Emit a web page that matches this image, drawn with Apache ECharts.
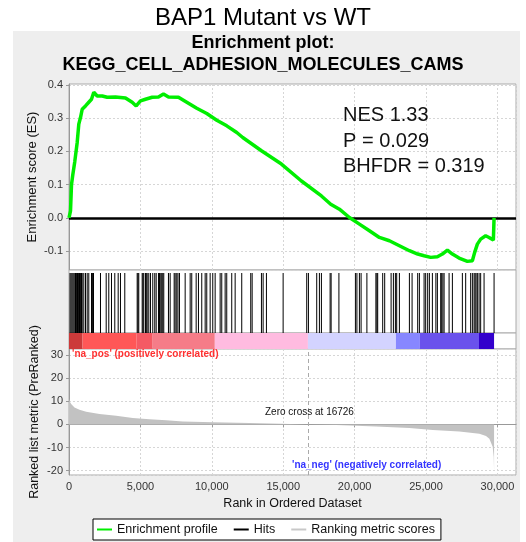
<!DOCTYPE html>
<html><head><meta charset="utf-8">
<script src="https://cdn.jsdelivr.net/npm/echarts@6/dist/echarts.min.js"></script>
<style>html,body{margin:0;padding:0;background:#fff}#c{width:526px;height:542px}</style>
</head><body><div id="c"></div>
<script>
// ---- data ----
const esRank = [0,70,105,175,266,406,574,686,805,924,1155,1386,1575,1736,1974,2324,2674,3255,3955,4424,4704,5005,5355,5824,6265,6615,6965,7665,8246,8946,9646,10346,11046,11746,12166,13475,14875,16275,17675,18326,18935,19635,20335,21035,21735,22435,23135,23835,24416,24864,25326,25795,26145,26495,26845,27314,27895,28245,28406,28595,28826,29176,29414,29715,29764];
const esScore = [0,-0.004,0.021,0.10,0.13,0.17,0.227,0.282,0.302,0.327,0.337,0.348,0.357,0.378,0.367,0.367,0.363,0.364,0.361,0.348,0.337,0.352,0.357,0.363,0.364,0.373,0.364,0.363,0.348,0.330,0.314,0.294,0.277,0.257,0.242,0.202,0.162,0.111,0.066,0.041,0.026,0.001,-0.019,-0.039,-0.059,-0.069,-0.084,-0.099,-0.109,-0.114,-0.119,-0.117,-0.109,-0.097,-0.109,-0.121,-0.131,-0.129,-0.104,-0.079,-0.064,-0.054,-0.059,-0.067,0];
const hitRanks = [70,140,210,280,350,420,455,504,546,595,644,686,735,784,826,875,924,1036,1155,1274,1386,1575,1624,1666,1715,2205,2604,2786,2975,3206,3444,3605,3906,4774,4830,4886,5124,5180,5236,5355,5411,5474,5586,5705,5866,6006,6104,6265,6335,6426,6496,6566,6636,6965,7084,7364,7434,7546,7630,7735,8134,8484,8596,8904,9065,9296,9534,9646,9884,10066,10234,10584,10696,10934,11046,11396,11634,12096,12726,12824,13475,13594,13825,14994,16646,16765,17346,17535,17675,18284,18354,18900,20055,20160,20335,20454,20860,21490,21560,21616,21966,22106,22554,22715,22855,22946,23135,23835,24024,24416,24535,24864,24976,25116,25235,25445,25690,25795,26026,26096,26180,26264,26614,26845,27545,27776,28126,28245,28364,28434,28504,28595,28714,28826,29064,29764];
const metricRank = [0,60,150,385,735,1204,2135,3304,4466,5635,6804,7966,10066,12635,14800,16726,18704,21504,23835,25466,27335,28735,29200,29435,29666,29740,29764];
const metricValue = [11.0,9.8,8.8,7.3,6.3,5.5,4.5,3.75,2.75,2.2,1.75,1.3,0.9,0.6,0.3,0,-0.3,-0.85,-1.6,-2.4,-3.1,-4.0,-5.0,-6.2,-9.7,-14,-20];
const colorBarEdges = [0,950,4740,5860,10210,16730,22890,24570,28710,29764];
const xTickLabels = ['0','5,000','10,000','15,000','20,000','25,000','30,000'];
const zeroCross = 16726;
const statLines = ['NES 1.33','P = 0.029','BHFDR = 0.319'];
const titleText = 'BAP1 Mutant vs WT';
const subTitle = ['Enrichment plot:','KEGG_CELL_ADHESION_MOLECULES_CAMS'];
const seriesNames = ['Enrichment profile','Hits','Ranking metric scores'];

// ---- styles ----
const colorBarColors = ['#cc3a3a','#ff5757','#f45a64','#f57c88','#ffbbe0','#d3d3ff','#8787ff','#6a52ec','#3300cc'];
const X_MAX = 31300;
const gridL = 69, gridW = 447;
const dash = {color:'#d6d6d6', type:[2,2], width:1};

const chart = echarts.init(document.getElementById('c'), null, {renderer:'canvas'});

const xBase = (gi, extra) => Object.assign({
  gridIndex: gi, type:'value', min:0, max:X_MAX, interval:5000,
  axisLine:{show:false}, axisTick:{show:false}, axisLabel:{show:false}, splitLine:{show:false}
}, extra||{});

const option = {
  animation:false,
  backgroundColor:'#ffffff',
  graphic:[
    {type:'rect', shape:{x:13,y:31,width:507,height:511}, style:{fill:'#eeeeee'}, z:-10},
    {type:'text', x:263, y:18, style:{text:titleText, font:'24px "Liberation Sans", Arial, sans-serif', fill:'#000', textAlign:'center', textVerticalAlign:'middle'}},
    {type:'text', x:263, y:43.5, style:{text:subTitle[0], font:'bold 18px "Liberation Sans", Arial, sans-serif', fill:'#000', textAlign:'center', textVerticalAlign:'middle'}},
    {type:'text', x:263, y:65.5, style:{text:subTitle[1], font:'bold 18px "Liberation Sans", Arial, sans-serif', fill:'#000', textAlign:'center', textVerticalAlign:'middle'}},
    {type:'text', x:343, y:115, z:20, style:{text:statLines[0], font:'20px "Liberation Sans", Arial, sans-serif', fill:'#111', textVerticalAlign:'middle'}},
    {type:'text', x:343, y:141.3, z:20, style:{text:statLines[1], font:'20px "Liberation Sans", Arial, sans-serif', fill:'#111', textVerticalAlign:'middle'}},
    {type:'text', x:343, y:166.7, z:20, style:{text:statLines[2], font:'20px "Liberation Sans", Arial, sans-serif', fill:'#111', textVerticalAlign:'middle'}},
    {type:'text', x:72, y:354.5, z:20, style:{text:"'na_pos' (positively correlated)", font:'bold 10px "Liberation Sans", Arial, sans-serif', fill:'#ff3030', textVerticalAlign:'middle'}},
    {type:'text', x:292, y:465, z:20, style:{text:"'na_neg' (negatively correlated)", font:'bold 10px "Liberation Sans", Arial, sans-serif', fill:'#3434ff', textVerticalAlign:'middle'}},
    {type:'text', x:265, y:412, z:20, style:{text:'Zero cross at ' + zeroCross, font:'10px "Liberation Sans", Arial, sans-serif', fill:'#111', textVerticalAlign:'middle'}}
  ],
  legend:{
    left:93, top:519, orient:'horizontal',
    data:[
      {name:seriesNames[0], icon:'rect', itemStyle:{color:'#00ee00'}},
      {name:seriesNames[1], icon:'rect', itemStyle:{color:'#000'}},
      {name:seriesNames[2], icon:'rect', itemStyle:{color:'#c8c8c8'}}
    ],
    itemWidth:15, itemHeight:2, itemGap:16,
    padding:[4,6,4,4],
    backgroundColor:'#fff', borderColor:'#000', borderWidth:1, borderRadius:0,
    textStyle:{fontSize:12.5, color:'#111', fontFamily:'"Liberation Sans", Arial, sans-serif'},
    selectedMode:false
  },
  grid:[
    {left:gridL, top:84, width:gridW, height:186, show:true, backgroundColor:'#fff', borderColor:'#aaa', borderWidth:1},
    {left:gridL, top:270, width:gridW, height:63, show:true, backgroundColor:'#fff', borderColor:'#aaa', borderWidth:1},
    {left:gridL, top:333, width:gridW, height:16, show:true, backgroundColor:'#fff', borderColor:'#aaa', borderWidth:1},
    {left:gridL, top:349, width:gridW, height:126, show:true, backgroundColor:'#fff', borderColor:'#aaa', borderWidth:1}
  ],
  xAxis:[
    xBase(0, {splitLine:{show:true, lineStyle:dash}}),
    xBase(1),
    xBase(2),
    xBase(3, {
      splitLine:{show:true, lineStyle:dash},
      axisLine:{show:true, lineStyle:{color:'#999'}},
      axisTick:{show:true, length:3, lineStyle:{color:'#999'}},
      axisLabel:{show:true, showMaxLabel:false, fontSize:11, color:'#333', margin:6, fontFamily:'"Liberation Sans", Arial, sans-serif',
        formatter:v => xTickLabels[Math.round(v/5000)] || ''},
      name:'Rank in Ordered Dataset', nameLocation:'middle', nameGap:22, nameMoveOverlap:false,
      nameTextStyle:{fontSize:12.5, color:'#111', fontFamily:'"Liberation Sans", Arial, sans-serif'}
    })
  ],
  yAxis:[
    {gridIndex:0, type:'value', min:-0.157, max:0.403, splitNumber:5,
      axisLine:{show:true, lineStyle:{color:'#999'}},
      axisTick:{show:true, length:3, lineStyle:{color:'#999'}},
      axisLabel:{showMinLabel:false, showMaxLabel:false, fontSize:11, color:'#333', margin:6, fontFamily:'"Liberation Sans", Arial, sans-serif', formatter:v=>v.toFixed(1)},
      splitLine:{show:true, lineStyle:dash},
      name:'Enrichment score (ES)', nameLocation:'middle', nameGap:30, nameMoveOverlap:false,
      nameTextStyle:{fontSize:13, color:'#111', fontFamily:'"Liberation Sans", Arial, sans-serif'}},
    {gridIndex:1, type:'value', min:0, max:1.05, show:false, splitLine:{show:false}},
    {gridIndex:2, type:'value', min:0, max:1, show:false, splitLine:{show:false}},
    {gridIndex:3, type:'value', min:-21.86, max:32.59, splitNumber:5,
      axisLine:{show:true, lineStyle:{color:'#999'}},
      axisTick:{show:true, length:3, lineStyle:{color:'#999'}},
      axisLabel:{showMinLabel:false, showMaxLabel:false, fontSize:11, color:'#333', margin:6, fontFamily:'"Liberation Sans", Arial, sans-serif'},
      splitLine:{show:true, lineStyle:dash},
      name:'Ranked list metric (PreRanked)', nameLocation:'middle', nameGap:28, nameMoveOverlap:false,
      nameTextStyle:{fontSize:12.5, color:'#111', fontFamily:'"Liberation Sans", Arial, sans-serif'}}
  ],
  series:[
    {name:seriesNames[0], type:'line', xAxisIndex:0, yAxisIndex:0,
      data: esRank.map((r,i)=>[r, esScore[i]]),
      symbol:'none', lineStyle:{color:'#00ee00', width:3.5}, itemStyle:{color:'#00ee00'}, z:5,
      markLine:{silent:true, symbol:'none', label:{show:false}, z:3,
        lineStyle:{color:'#000', width:2.5, type:'solid'}, data:[{yAxis:0}]}},
    {name:seriesNames[1], type:'custom', xAxisIndex:1, yAxisIndex:1,
      itemStyle:{color:'#000'},
      data: hitRanks.map(r=>[r]),
      renderItem:(params, api)=>{
        const x = api.coord([api.value(0), 0])[0];
        const y0 = api.coord([0, 0])[1];
        const y1 = api.coord([0, 1])[1];
        return {type:'line', shape:{x1:x, y1:y1, x2:x, y2:y0}, style:{stroke:'#000', lineWidth:1}};
      }},
    {name:'colorbar', type:'custom', xAxisIndex:2, yAxisIndex:2,
      data: colorBarEdges.slice(0,-1).map((s,i)=>[s, colorBarEdges[i+1], i]),
      renderItem:(params, api)=>{
        const p0 = api.coord([api.value(0), 1]);
        const p1 = api.coord([api.value(1), 0]);
        return {type:'rect', shape:{x:p0[0], y:p0[1], width:p1[0]-p0[0], height:p1[1]-p0[1]},
          style:{fill:colorBarColors[api.value(2)]}};
      }},
    {name:seriesNames[2], type:'line', xAxisIndex:3, yAxisIndex:3,
      data: metricRank.map((r,i)=>[r, metricValue[i]]),
      symbol:'none', lineStyle:{width:0, color:'#c2c2c2'}, itemStyle:{color:'#c8c8c8'},
      areaStyle:{color:'#c2c2c2', opacity:1, origin:0},
      markLine:{silent:true, symbol:'none', label:{show:false},
        lineStyle:{color:'#aaa', width:1, type:[4,3]}, data:[{xAxis:zeroCross}]}}
  ]
};
chart.setOption(option);
</script></body></html>
